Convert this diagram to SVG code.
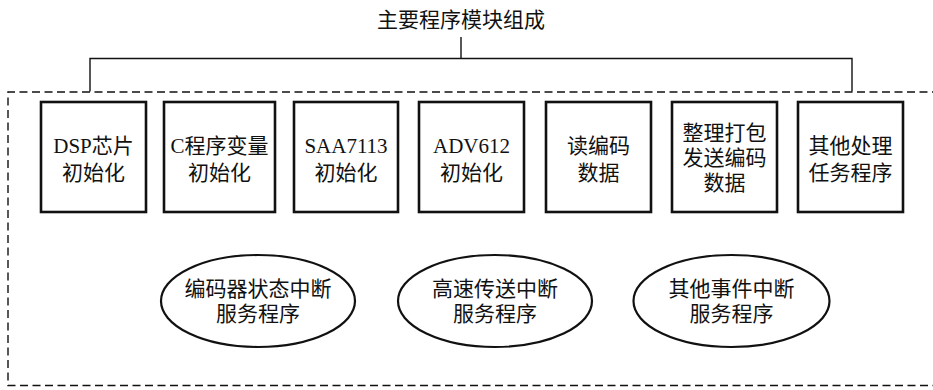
<svg xmlns="http://www.w3.org/2000/svg" width="933" height="390" viewBox="0 0 933 390">
<style>
text{font-family:"Liberation Serif","Noto Sans CJK SC",serif;font-size:21px;fill:#111;text-anchor:middle}
.box{fill:#fff;stroke:#111;stroke-width:2.6}
.ell{fill:#fff;stroke:#111;stroke-width:2.2}
.ln{fill:none;stroke:#111;stroke-width:1.4}
.dash{fill:none;stroke:#111;stroke-width:1.4;stroke-dasharray:8 4.5}
</style>
<rect width="933" height="390" fill="#fff"/>
<text x="461" y="26.5">主要程序模块组成</text>
<g id="connectors">
<path class="ln" d="M461 37V58.5M90 91.5V58.5H852V91.5"/>
</g>
<g id="group">
<path class="dash" d="M940 92H8V385.5H940"/>
</g>
<g id="n1"><rect class="box" x="41" y="102" width="105" height="110"/><text x="93.5" y="153">DSP芯片</text><text x="93.5" y="180">初始化</text></g>
<g id="n2"><rect class="box" x="164" y="102" width="111" height="110"/><text x="219.5" y="153">C程序变量</text><text x="219.5" y="180">初始化</text></g>
<g id="n3"><rect class="box" x="294" y="102" width="104" height="110"/><text x="346" y="153">SAA7113</text><text x="346" y="180">初始化</text></g>
<g id="n4"><rect class="box" x="419" y="102" width="105" height="110"/><text x="471.5" y="153">ADV612</text><text x="471.5" y="180">初始化</text></g>
<g id="n5"><rect class="box" x="546" y="102" width="105" height="110"/><text x="598.5" y="153">读编码</text><text x="598.5" y="180">数据</text></g>
<g id="n6"><rect class="box" x="672" y="102" width="105" height="110"/><text x="724.5" y="140">整理打包</text><text x="724.5" y="165">发送编码</text><text x="724.5" y="190">数据</text></g>
<g id="n7"><rect class="box" x="798" y="102" width="105" height="110"/><text x="850.5" y="153">其他处理</text><text x="850.5" y="180">任务程序</text></g>
<g id="e1"><ellipse class="ell" cx="258" cy="301" rx="97" ry="46"/><text x="258" y="296">编码器状态中断</text><text x="258" y="321">服务程序</text></g>
<g id="e2"><ellipse class="ell" cx="495" cy="301" rx="97" ry="46"/><text x="495" y="296">高速传送中断</text><text x="495" y="321">服务程序</text></g>
<g id="e3"><ellipse class="ell" cx="731.5" cy="301" rx="98" ry="46"/><text x="731.5" y="296">其他事件中断</text><text x="731.5" y="321">服务程序</text></g>
</svg>
